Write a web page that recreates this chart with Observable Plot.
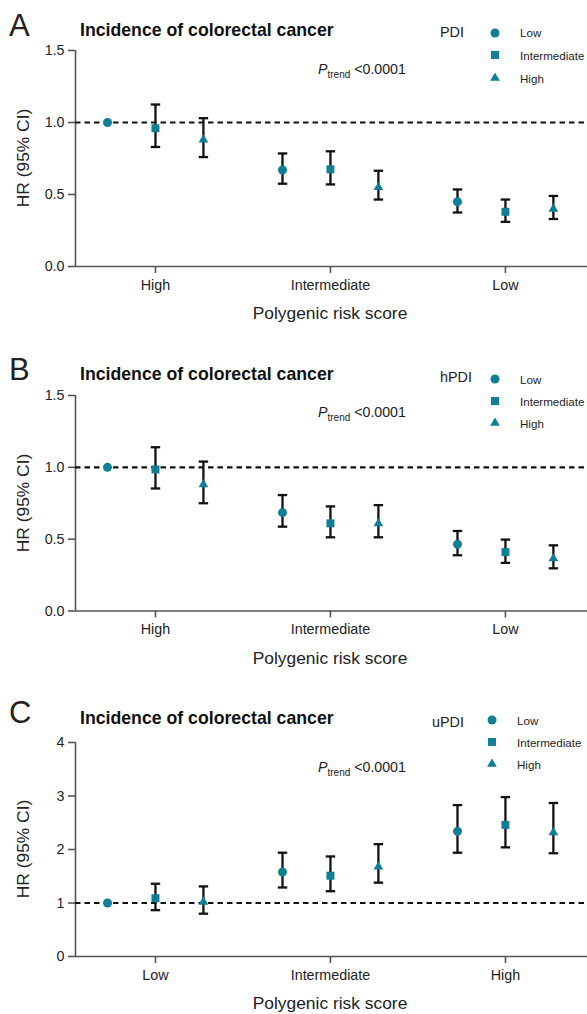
<!DOCTYPE html>
<html>
<head>
<meta charset="utf-8">
<script src="https://cdn.jsdelivr.net/npm/d3@7"></script>
<script src="https://cdn.jsdelivr.net/npm/@observablehq/plot@0.6"></script>
<style>
  body { margin: 0; background: #fff; font-family: "Liberation Sans", Arial, sans-serif; color: #222; }
  .panel { position: relative; width: 587px; }
  .panel svg { display: block; }
  .ov { position: absolute; line-height: 1; white-space: nowrap; }
</style>
</head>
<body>
<div id="root"></div>
<script>
// ---- data ----
const prsGroupsAB = ["High", "Intermediate", "Low"];
const prsGroupsC = ["Low", "Intermediate", "High"];
const dietLevels = ["Low", "Intermediate", "High"];

// Panel A: PDI
const hrA = [1.00, 0.96, 0.88, 0.67, 0.675, 0.55, 0.45, 0.38, 0.40];
const loA = [null, 0.83, 0.76, 0.575, 0.57, 0.465, 0.375, 0.31, 0.33];
const hiA = [null, 1.125, 1.03, 0.785, 0.80, 0.665, 0.535, 0.465, 0.49];

// Panel B: hPDI
const hrB = [1.00, 0.985, 0.88, 0.685, 0.61, 0.61, 0.465, 0.41, 0.365];
const loB = [null, 0.853, 0.75, 0.587, 0.513, 0.513, 0.388, 0.335, 0.297];
const hiB = [null, 1.14, 1.04, 0.807, 0.728, 0.737, 0.557, 0.497, 0.457];

// Panel C: uPDI
const hrC = [1.00, 1.09, 1.02, 1.58, 1.51, 1.68, 2.34, 2.46, 2.32];
const loC = [null, 0.866, 0.80, 1.29, 1.22, 1.38, 1.94, 2.04, 1.93];
const hiC = [null, 1.36, 1.31, 1.94, 1.87, 2.10, 2.83, 2.98, 2.87];

const yTicksAB = [0, 0.5, 1.0, 1.5];
const yTicksC = [0, 1, 2, 3, 4];

// ---- style ----
const TEAL = "#0e7f95";
const INK = "#111";
const AXIS = "#555";
const FONT = "'Liberation Sans', Arial, sans-serif";
const DODGE = 0.274;   // within-group spacing (fraction of group step)
const CAP = 0.027;     // half cap width
const R = { circle: 4.5, square: 4.5, triangle: 3.6 };

function buildRows(hr, lo, hi) {
  return hr.map((v, i) => {
    const g = Math.floor(i / 3), lvl = i % 3;
    return { g, level: dietLevels[lvl], pos: g + (lvl - 1) * DODGE, hr: v, lo: lo[i], hi: hi[i] };
  });
}

function symPath(type, r) {
  return d3.symbol(type, Math.PI * r * r)();
}

function panel(cfg) {
  const rows = buildRows(cfg.hr, cfg.lo, cfg.hi);
  const ci = rows.filter(d => d.lo != null);
  const wrap = document.createElement("div");
  wrap.className = "panel";
  wrap.style.height = cfg.height + "px";

  const chart = Plot.plot({
    width: 587,
    height: cfg.height,
    marginLeft: 75,
    marginRight: 0,
    marginTop: cfg.marginTop,
    marginBottom: cfg.marginBottom,
    x: { domain: [-0.457, 2.469], axis: null },
    y: { domain: cfg.yDomain, axis: null },
    style: { fontFamily: FONT, fontSize: "14px", color: "#222", background: "transparent" },
    marks: [
      Plot.ruleX([-0.457], { stroke: AXIS, strokeWidth: 1.6 }),
      Plot.ruleY([cfg.yDomain[0]], { stroke: AXIS, strokeWidth: 1.6 }),
      Plot.axisX({ ticks: [0, 1, 2], tickFormat: i => cfg.groups[i], tickSize: 7, tickPadding: 6,
                   stroke: AXIS, strokeWidth: 1.6, fill: "#222", label: null, fontSize: 14.3 }),
      Plot.axisY({ ticks: cfg.yTicks, tickFormat: cfg.yFormat, tickSize: 7, tickPadding: 4,
                   stroke: AXIS, strokeWidth: 1.6, fill: "#222", label: null, fontSize: 14.3 }),
      Plot.ruleY([1], { stroke: INK, strokeWidth: 2.2, strokeDasharray: "5.5,4" }),
      Plot.ruleX(ci, { x: "pos", y1: "lo", y2: "hi", stroke: INK, strokeWidth: 2.3 }),
      Plot.link(ci, { x1: d => d.pos - CAP, x2: d => d.pos + CAP, y1: "lo", y2: "lo", stroke: INK, strokeWidth: 2.3 }),
      Plot.link(ci, { x1: d => d.pos - CAP, x2: d => d.pos + CAP, y1: "hi", y2: "hi", stroke: INK, strokeWidth: 2.3 }),
      Plot.dot(rows.filter(d => d.level === "Low"), { x: "pos", y: "hr", symbol: "circle", r: R.circle, fill: TEAL, stroke: "none" }),
      Plot.dot(rows.filter(d => d.level === "Intermediate"), { x: "pos", y: "hr", symbol: "square", r: R.square, fill: TEAL, stroke: "none" }),
      Plot.dot(rows.filter(d => d.level === "High"), { x: "pos", y: "hr", symbol: "triangle", r: R.triangle, fill: TEAL, stroke: "none" })
    ]
  });
  wrap.appendChild(chart);

  const add = (html, style) => {
    const el = document.createElement("div");
    el.className = "ov";
    el.innerHTML = html;
    Object.assign(el.style, style);
    wrap.appendChild(el);
    return el;
  };
  const top = (baseline, fs) => (baseline - 0.85 * fs) + "px";

  add(cfg.letter, { left: "9px", top: top(cfg.letterBase, 31), fontSize: "31px" });
  add("Incidence of colorectal cancer", { left: "80px", top: top(cfg.titleBase, 17.7), fontSize: "17.7px", fontWeight: "bold", color: "#111" });
  add(cfg.index, { left: cfg.indexX + "px", top: top(cfg.indexBase, 14.4), fontSize: "14.4px" });

  // legend
  const lg = [["Low", d3.symbolCircle, R.circle], ["Intermediate", d3.symbolSquare, R.square], ["High", d3.symbolTriangle, R.triangle]];
  lg.forEach(([lab, t, r], k) => {
    const cy = cfg.legendY[k];
    add(`<svg width="14" height="14" style="display:block"><path transform="translate(7,7)" d="${symPath(t, r)}" fill="${TEAL}"/></svg>`,
        { left: (cfg.legendX - 7) + "px", top: (cy - 7) + "px" });
    add(lab, { left: (cfg.legendX + 25) + "px", top: (cy - 0.45 * 11.6) + "px", fontSize: "11.6px" });
  });

  // P trend
  add(`<i>P</i><span style="font-size:10px;position:relative;top:4px">trend</span> &lt;0.0001`,
      { left: "318px", top: top(cfg.pBase, 14.2), fontSize: "14.2px" });

  // axis titles
  add("HR (95% CI)", { left: "24px", top: cfg.yTitleC + "px", fontSize: "17.4px",
      transform: "translate(-50%, -50%) rotate(-90deg)", transformOrigin: "center center" });
  add("Polygenic risk score", { left: "330px", top: top(cfg.xTitleBase, 17.4), fontSize: "17.4px", transform: "translateX(-50%)" });

  return wrap;
}

const root = document.getElementById("root");
root.appendChild(panel({
  hr: hrA, lo: loA, hi: hiA, groups: prsGroupsAB, yDomain: [0, 1.5], yTicks: yTicksAB, yFormat: d3.format(".1f"),
  height: 345, marginTop: 50, marginBottom: 79, letter: "A", letterBase: 36, titleBase: 37, index: "PDI", indexX: 440, indexBase: 37.5,
  legendX: 495, legendY: [32.5, 55, 78], pBase: 74, yTitleC: 158, xTitleBase: 320
}));
root.appendChild(panel({
  hr: hrB, lo: loB, hi: hiB, groups: prsGroupsAB, yDomain: [0, 1.5], yTicks: yTicksAB, yFormat: d3.format(".1f"),
  height: 345, marginTop: 50, marginBottom: 79.5, letter: "B", letterBase: 35, titleBase: 36, index: "hPDI", indexX: 440, indexBase: 37,
  legendX: 495, legendY: [34, 56, 78], pBase: 72, yTitleC: 158, xTitleBase: 320
}));
root.appendChild(panel({
  hr: hrC, lo: loC, hi: hiC, groups: prsGroupsC, yDomain: [0, 4], yTicks: yTicksC, yFormat: d3.format("d"),
  height: 324, marginTop: 52, marginBottom: 58, letter: "C", letterBase: 33, titleBase: 35, index: "uPDI", indexX: 432, indexBase: 37,
  legendX: 492, legendY: [30, 52, 74], pBase: 82, yTitleC: 159, xTitleBase: 320
}));
</script>
</body>
</html>
